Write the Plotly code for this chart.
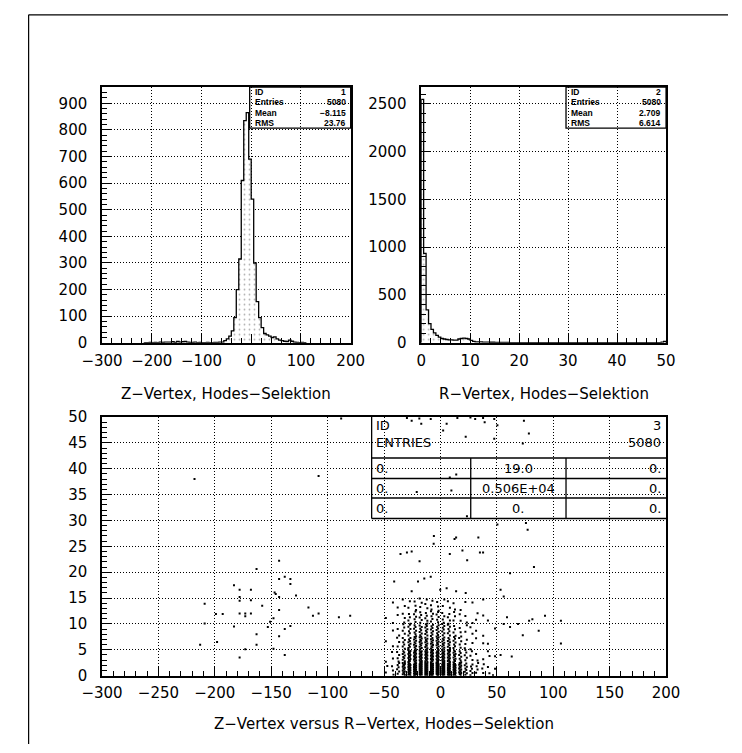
import math
import plotly.graph_objects as go

W, H = 742, 753

# ---------------- data ----------------
# Z-vertex histogram: 5-unit bins, first bin starts at -215
z_first_edge = -215
z_bin_width = 5
z_counts = [
    1, 1, 2, 1, 2, 1, 3, 2, 3, 3, 3, 4, 2, 5, 3, 4, 5, 3, 2, 2, 3, 1, 2, 1, 1, 2, 1, 1, 2, 2, 3,
    3, 8, 15, 25, 45, 95, 200, 315, 610, 835, 865, 690, 540, 300, 155, 95, 57, 35, 30, 25,
    20, 22, 15, 10, 8, 6, 5, 10, 6, 3,
    2, 1, 2, 1,
]

# R-vertex histogram: 0.5-unit bins from 0 to 50
r_first_edge = 0.0
r_bin_width = 0.5
r_counts = [
    2545, 936, 345, 200, 140, 105, 78, 60,
    45, 40, 35, 30, 30, 28, 28, 40, 45, 50, 45, 40,
    25, 15,
    10, 9, 9, 8, 7, 7, 6, 6, 5, 5, 5, 4, 4, 4, 3, 3, 3, 3,
    2, 1, 2, 1, 1, 2, 1, 1, 2, 1, 1, 1, 2, 1, 1, 1, 1, 2, 1, 1, 1, 1, 1, 2, 1, 1, 1, 1,
    1, 1, 2, 1, 1, 1, 1, 1, 1, 1, 2, 1, 1, 1, 1, 1, 1, 1, 1, 2, 1, 1, 1, 1, 1, 1, 1, 1,
    1, 2, 8, 15,
]

stats_labels = ["ID", "Entries", "Mean", "RMS"]
stats_z = ["1", "5080", "\u22128.115", "23.76"]
stats_r = ["2", "5080", "2.709", "6.614"]

# Z versus R: dense core drawn cell by cell (dots per cell)
core_z_first_edge = -50
core_z_width = 5
core_r_width = 2.5
core_dots = [
    [2, 3, 6, 14, 20, 24, 26, 26, 26, 26, 26, 24, 20, 14, 8, 6, 4, 3, 2, 2],   # R 0 - 2.5
    [1, 2, 4, 9, 13, 15, 16, 16, 16, 16, 16, 14, 11, 7, 5, 3, 2, 1, 1, 1],     # R 2.5 - 5
    [1, 1, 3, 6, 9, 10, 11, 11, 11, 11, 10, 9, 7, 4, 3, 2, 1, 1, 1, 0],        # R 5 - 7.5
    [0, 1, 2, 4, 6, 7, 8, 8, 8, 8, 7, 6, 4, 3, 2, 2, 1, 1, 0, 1],              # R 7.5 - 10
    [1, 1, 1, 3, 4, 5, 5, 5, 5, 5, 4, 4, 3, 2, 2, 1, 2, 1, 1, 0],              # R 10 - 12.5
    [0, 1, 1, 2, 2, 3, 3, 3, 3, 3, 2, 2, 2, 1, 1, 1, 0, 1, 0, 0],              # R 12.5 - 15
]

# Z versus R: isolated entries outside the core
iso_z = [
    -218, -88, -108, -209, -209, -213, -199, -193, -198, -183, -178, -178, -178, -178,
    -183, -173, -173, -168, -168, -168, -173, -178, -163, -163, -163, -158, -153, -151,
    -148, -147, -143, -143, -143, -143, -143, -138, -133, -133, -138, -133, -138, -148,
    -128, -117, -113, -108, -90, -80, -146,
    -5.8, 13.9, 33.6, 75.8, 77.3, -35.4, -25.5, -18.5, 19.5, 23.7, 37.8, 8.3, 61.7, 82.9,
    -41, -25.5, -19.9, -14.3, -8.6, -0.2, 5.5, 13.9, 22.4, 53.3,
    56.1, 61.7, 73, 78.6, 81.5, 87.1, 92.7, 106.8, 106.8, 53.3, 63.2, 43.5, 56.1, 68.8, 59,
    -29.7, -25.5, -18.7, -17, -8.6, 5.5, 15, 26.6, 30.8, 37.8, 39.2, 47.7, 50.5, 74,
    22.4, 47.7, 73, 78.4, 2.4,
    14, 9.7, -21, 23.5, 8.3, -6, 12.5, 50.5, -29.7, 35,
]
iso_r = [
    38.0, 49.7, 38.6, 13.9, 10.1, 6.0, 11.9, 11.9, 6.5, 17.5, 16.6, 15.2, 14.5, 12.0,
    9.5, 12.0, 11.5, 16.6, 14.6, 12.0, 5.1, 3.5, 8.0, 6.0, 20.6, 13.5, 9.4, 10.4,
    11.1, 16.1, 22.2, 18.7, 15.2, 12.7, 7.6, 19.1, 18.7, 17.7, 9.0, 9.6, 4.0, 5.2,
    15.5, 13.2, 11.6, 12.0, 11.3, 11.6, 15.8,
    27.0, 26.7, 26.7, 29.5, 28.2, 23.5, 24.0, 22.1, 24.2, 22.3, 23.8, 23.5, 19.8, 21.0,
    18.2, 16.3, 18.2, 18.8, 19.1, 16.6, 16.9, 16.3, 16.0, 16.6,
    15.3, 9.4, 7.8, 10.6, 10.9, 8.7, 11.6, 10.6, 6.2, 4.0, 3.7, 3.8, 10.0, 10.0, 11.3,
    49.8, 49.3, 49.7, 48.7, 49.6, 48.7, 49.8, 49.9, 49.6, 49.8, 49.0, 49.6, 48.4, 49.3,
    46.2, 45.8, 44.9, 46.8, 47.4,
    38.9, 35.8, 35.5, 30.8, 38.3, 25.5, 26.4, 29.2, 23.8, 23.8,
]

table_id = "3"
table_entries = "5080"
table_cells = [
    ["0.", "19.0", "0."],
    ["0.", "0.506E+04", "0."],
    ["0.", "0.", "0."],
]

# ---------------- helpers ----------------
def px(x):
    return x / W


def py(y):
    return 1 - y / H


def step_outline(first_edge, width, counts):
    edges = [first_edge + i * width for i in range(len(counts) + 1)]
    xs = [edges[0]] + edges[:-1] + [edges[-1], edges[-1]]
    ys = [0] + list(counts) + [counts[-1], 0]
    return xs, ys


FONT = "DejaVu Sans"
dot_fill = dict(shape=".", fgcolor="#666666", bgcolor="white", size=5, solidity=0.1)

fig = go.Figure()

# Z-vertex histogram
zx, zy = step_outline(z_first_edge, z_bin_width, z_counts)
fig.add_trace(go.Scatter(x=zx, y=zy, mode="lines", line=dict(color="black", width=1.3, shape="hv"),
                         fill="tozeroy", fillcolor="rgba(0,0,0,0)", fillpattern=dot_fill,
                         xaxis="x", yaxis="y", hoverinfo="skip"))

# R-vertex histogram
rx, ry = step_outline(r_first_edge, r_bin_width, r_counts)
fig.add_trace(go.Scatter(x=rx, y=ry, mode="lines", line=dict(color="black", width=1.3, shape="hv"),
                         fill="tozeroy", fillcolor="rgba(0,0,0,0)", fillpattern=dot_fill,
                         xaxis="x2", yaxis="y2", hoverinfo="skip"))

# Z versus R scatter: each core cell is drawn as a thin column of dots
jitter = [-0.9, 0.4, -0.4, 0.9]
cz, cr = [], []
for j, row in enumerate(core_dots):
    r0 = j * core_r_width
    for i, n in enumerate(row):
        if n == 0:
            continue
        zc = core_z_first_edge + (i + 0.5) * core_z_width
        phase = ((i * 5 + j * 3) % 7) / 7.0
        for m in range(n):
            frac = ((m + 0.5) / n + phase / n + 0.35 * phase * (n == 1)) % 1.0
            cz.append(zc + jitter[(m + i) % 4])
            cr.append(r0 + frac * core_r_width)

fig.add_trace(go.Scatter(x=cz + iso_z, y=cr + iso_r, mode="markers",
                         marker=dict(symbol="square", size=2, color="black", line=dict(width=0)),
                         xaxis="x3", yaxis="y3", hoverinfo="skip"))


def axis(domain, rng, dtick, minor_dtick, anchor, is_y=False):
    return dict(
        domain=domain, range=rng, dtick=dtick, tick0=0, anchor=anchor,
        showline=True, linecolor="black", linewidth=1.5, mirror=True,
        ticks="inside", ticklen=9, tickwidth=1, tickcolor="black",
        showgrid=True, gridcolor="black", gridwidth=1, griddash="1px,2px",
        zeroline=False, fixedrange=True,
        tickfont=dict(family=FONT, size=15, color="black"),
        minor=dict(dtick=minor_dtick, ticks="inside", ticklen=5, tickwidth=1,
                   tickcolor="black", showgrid=False),
        ticklabelstandoff=10 if is_y else 3,
    )


TLx = [px(85), px(346)]
TRx = [px(420), px(677)]
Bx = [px(85), px(677)]
topy = [py(342), py(80)]
boty = [py(683), py(418)]

fig.update_layout(
    width=W, height=H, margin=dict(l=0, r=0, t=0, b=0),
    paper_bgcolor="white", plot_bgcolor="white", showlegend=False,
    xaxis=axis(TLx, [-300, 200], 100, 20, "y"),
    yaxis=axis(topy, [0, 961], 100, 20, "x", True),
    xaxis2=axis(TRx, [0, 50], 10, 2, "y2"),
    yaxis2=axis(topy, [0, 2673], 500, 100, "x2", True),
    xaxis3=axis(Bx, [-300, 200], 50, 10, "y3"),
    yaxis3=axis(boty, [0, 50], 5, 1, "x3", True),
)

shapes = []
annotations = []

# page frame
shapes.append(dict(type="line", xref="paper", yref="paper", x0=px(8), x1=px(742), y0=py(6), y1=py(6),
                   line=dict(color="black", width=1.2)))
shapes.append(dict(type="line", xref="paper", yref="paper", x0=px(8), x1=px(8), y0=py(6), y1=py(753),
                   line=dict(color="black", width=1.2)))


def stats_box(left, right, values):
    top, bottom = 80, 122
    shapes.append(dict(type="rect", xref="paper", yref="paper", x0=px(left), x1=px(right),
                       y0=py(bottom), y1=py(top), line=dict(color="black", width=1.3)))
    row_h = (bottom - top) / 4
    sfont = dict(family="Liberation Sans", size=8.5, color="black")
    for k, (lab, val) in enumerate(zip(stats_labels, values)):
        yc = top + (k + 0.5) * row_h
        annotations.append(dict(xref="paper", yref="paper", x=px(left + 3), y=py(yc),
                                text="<b>%s</b>" % lab, showarrow=False,
                                xanchor="left", yanchor="middle", font=sfont))
        annotations.append(dict(xref="paper", yref="paper", x=px(right - 3), y=py(yc),
                                text="<b>%s</b>" % val, showarrow=False,
                                xanchor="right", yanchor="middle", font=sfont))


stats_box(240, 346, stats_z)
stats_box(572, 677, stats_r)

# contents table of the 2D plot
tl, tr = 368, 677
c1, c2 = 472, 572
row_lines = [460, 481, 501, 522]
shapes.append(dict(type="line", xref="paper", yref="paper", x0=px(tl), x1=px(tl),
                   y0=py(418), y1=py(522), line=dict(color="black", width=1.3)))
for yl in row_lines:
    shapes.append(dict(type="line", xref="paper", yref="paper", x0=px(tl), x1=px(tr),
                       y0=py(yl), y1=py(yl), line=dict(color="black", width=1.3)))
for xl in (c1, c2):
    shapes.append(dict(type="line", xref="paper", yref="paper", x0=px(xl), x1=px(xl),
                       y0=py(460), y1=py(522), line=dict(color="black", width=1.3)))

tfont = dict(family=FONT, size=13, color="black")


def cell_text(x, y, text, anchor):
    annotations.append(dict(xref="paper", yref="paper", x=px(x), y=py(y), text=text,
                            showarrow=False, xanchor=anchor, yanchor="middle", font=tfont,
                            borderpad=0))


cell_text(tl + 4, 427, "ID", "left")
cell_text(tr - 4, 427, table_id, "right")
cell_text(tl + 4, 444, "ENTRIES", "left")
cell_text(tr - 4, 444, table_entries, "right")
for k, row in enumerate(table_cells):
    yc = (row_lines[k] + row_lines[k + 1]) / 2
    cell_text(tl + 4, yc, row[0], "left")
    cell_text((c1 + c2) / 2, yc, row[1], "center")
    cell_text(tr - 4, yc, row[2], "right")

# axis captions
cfont = dict(family=FONT, size=15, color="black")
annotations.append(dict(xref="paper", yref="paper", x=px((85 + 346) / 2), y=py(394),
                        text="Z\u2212Vertex, Hodes\u2212Selektion", showarrow=False,
                        xanchor="center", yanchor="middle", font=cfont))
annotations.append(dict(xref="paper", yref="paper", x=px((420 + 677) / 2), y=py(394),
                        text="R\u2212Vertex, Hodes\u2212Selektion", showarrow=False,
                        xanchor="center", yanchor="middle", font=cfont))
annotations.append(dict(xref="paper", yref="paper", x=px((85 + 677) / 2), y=py(733),
                        text="Z\u2212Vertex versus R\u2212Vertex, Hodes\u2212Selektion", showarrow=False,
                        xanchor="center", yanchor="middle", font=cfont))

fig.update_layout(shapes=shapes, annotations=annotations)

fig.write_html("out.html")
